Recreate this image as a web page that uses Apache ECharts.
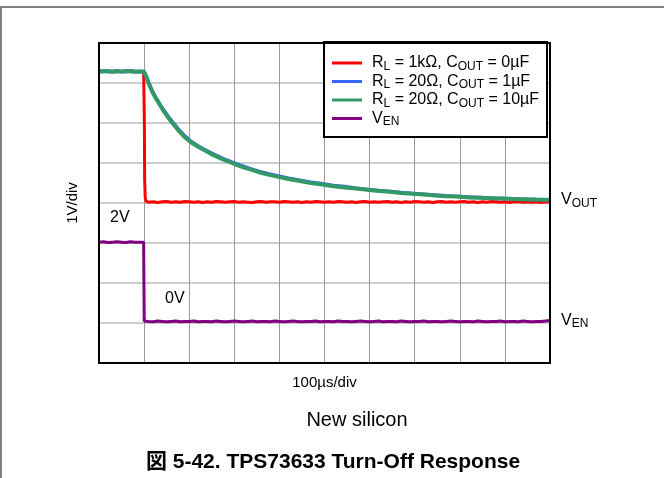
<!DOCTYPE html>
<html>
<head>
<meta charset="utf-8">
<script src="https://cdn.jsdelivr.net/npm/echarts@6/dist/echarts.min.js"></script>
<style>
html,body{margin:0;padding:0;background:#fff;}
#chart{width:664px;height:478px;}
</style>
</head>
<body>
<div id="chart"></div>
<script>
// ---- data (µs, V) ----
const preTime = [0,10,20,30,40,50,60,70,80,90];
const tailTime = [110,120,130,140,150,160,170,180,190,200,210,220,230,240,250,260,270,280,290,300,
  310,320,330,340,350,360,370,380,390,400,410,420,430,440,450,460,470,480,490,500,
  510,520,530,540,550,560,570,580,590,600,610,620,630,640,650,660,670,680,690,700,
  710,720,730,740,750,760,770,780,790,800,810,820,830,840,850,860,870,880,890,900,
  910,920,930,940,950,960,970,980,990,1000];

// R_L = 1kΩ, C_OUT = 0µF
const redPre = [3.29,3.30,3.28,3.29,3.30,3.29,3.28,3.30,3.29,3.29];
const redStepTime = [99,100,100.6,101.2,102.5,104.5,107];
const redStep = [3.29,3.28,2.0,0.6,0.12,0.04,0.02];
const redTail = [0.02,0.03,0.01,0.03,0.04,0.02,0.03,0.02,0.04,0.03,
  0.02,0.03,0.01,0.03,0.02,0.04,0.03,0.02,0.03,0.04,
  0.02,0.03,0.02,0.01,0.03,0.04,0.02,0.03,0.03,0.02,
  0.04,0.03,0.02,0.03,0.01,0.03,0.02,0.04,0.03,0.02,
  0.03,0.02,0.04,0.03,0.02,0.03,0.01,0.03,0.04,0.02,
  0.03,0.02,0.03,0.04,0.02,0.03,0.01,0.03,0.02,0.04,
  0.03,0.02,0.03,0.01,0.03,0.04,0.02,0.03,0.02,0.03,
  0.04,0.02,0.03,0.01,0.03,0.02,0.04,0.03,0.02,0.03,
  0.01,0.03,0.04,0.02,0.03,0.02,0.03,0.01,0.03,0.02];

// decay curves (R_L = 20Ω)
const decayTime = [100,105,110,115,120,128,136,145,155,165,175,188,202,218,235,255,275,295,315,335,
  355,375,395,420,445,470,495,520,545,570,595,620,645,670,695,720,745,770,795,820,
  845,870,895,920,945,970,1000];
const bluePre = [3.29,3.30,3.29,3.29,3.30,3.28,3.29,3.30,3.29,3.29];
const blueDecay = [3.29,3.16,3.01,2.88,2.76,2.60,2.45,2.30,2.14,2.00,1.86,1.70,1.56,1.44,1.33,1.22,1.11,1.02,0.94,0.86,
  0.79,0.73,0.68,0.62,0.57,0.52,0.48,0.44,0.41,0.37,0.34,0.31,0.29,0.26,0.24,0.22,0.20,0.18,0.165,0.15,
  0.135,0.12,0.11,0.10,0.095,0.085,0.08];
const greenPre = [3.29,3.29,3.30,3.28,3.29,3.29,3.30,3.29,3.28,3.29];
const greenDecay = [3.28,3.15,3.00,2.86,2.74,2.58,2.43,2.27,2.11,1.97,1.83,1.67,1.53,1.42,1.31,1.19,1.09,1.00,0.91,0.84,
  0.77,0.71,0.66,0.60,0.55,0.50,0.46,0.42,0.39,0.36,0.33,0.30,0.28,0.25,0.23,0.21,0.19,0.17,0.16,0.14,
  0.13,0.12,0.11,0.10,0.09,0.085,0.08];

// V_EN
const enPre = [2.02,2.03,2.01,2.02,2.03,2.02,2.01,2.03,2.02,2.02];
const enStepTime = [99,99.6,100.3];
const enStep = [2.02,1.0,0.05];
const enTail = [0.04,0.03,0.05,0.04,0.03,0.04,0.05,0.03,0.04,0.04,
  0.05,0.03,0.04,0.04,0.03,0.05,0.04,0.03,0.04,0.05,
  0.04,0.03,0.04,0.05,0.03,0.04,0.04,0.03,0.05,0.04,
  0.03,0.04,0.05,0.04,0.03,0.04,0.04,0.05,0.03,0.04,
  0.04,0.03,0.05,0.04,0.04,0.03,0.04,0.05,0.04,0.03,
  0.04,0.05,0.03,0.04,0.04,0.03,0.05,0.04,0.03,0.04,
  0.04,0.05,0.03,0.04,0.04,0.03,0.04,0.05,0.04,0.03,
  0.04,0.04,0.03,0.05,0.04,0.03,0.04,0.04,0.05,0.03,
  0.04,0.04,0.03,0.05,0.04,0.03,0.04,0.04,0.05,0.06];

const seriesNames = ['RL = 1kΩ, COUT = 0µF','RL = 20Ω, COUT = 1µF','RL = 20Ω, COUT = 10µF','VEN'];
const legendRich = ['{m|R}{s|L}{m| = 1kΩ, C}{s|OUT}{m| = 0µF}','{m|R}{s|L}{m| = 20Ω, C}{s|OUT}{m| = 1µF}','{m|R}{s|L}{m| = 20Ω, C}{s|OUT}{m| = 10µF}','{m|V}{s|EN}'];

// ---- display mapping (scope screen: 1 V/div, channel ground positions in divisions) ----
const VOUT_ZERO_DIV = 4, VEN_ZERO_DIV = 1;
function pairs(ts, vs, off){ return ts.map((t,i)=>[t, vs[i] + off]); }
const redData = pairs(preTime, redPre, VOUT_ZERO_DIV).concat(pairs(redStepTime, redStep, VOUT_ZERO_DIV), pairs(tailTime, redTail, VOUT_ZERO_DIV));
const blueData = pairs(preTime, bluePre, VOUT_ZERO_DIV).concat(pairs(decayTime, blueDecay, VOUT_ZERO_DIV));
const greenData = pairs(preTime, greenPre, VOUT_ZERO_DIV).concat(pairs(decayTime, greenDecay, VOUT_ZERO_DIV));
const enData = pairs(preTime, enPre, VEN_ZERO_DIV).concat(pairs(enStepTime, enStep, VEN_ZERO_DIV), pairs(tailTime, enTail, VEN_ZERO_DIV));

const FONT = '"Liberation Sans", Arial, sans-serif';
const richStyles = {
  m: {fontSize: 16, fontFamily: FONT, color: '#000', lineHeight: 19},
  s: {fontSize: 12, fontFamily: FONT, color: '#000', lineHeight: 11, verticalAlign: 'bottom'}
};

const chart = echarts.init(document.getElementById('chart'), null, {renderer: 'canvas'});
const lineSeries = (name, data, color, width, extra) => Object.assign({
  name, type: 'line', data, showSymbol: false, symbol: 'none',
  lineStyle: {color, width}, itemStyle: {color}, smooth: false, animation: false
}, extra || {});

chart.setOption({
  animation: false,
  backgroundColor: '#fff',
  textStyle: {fontFamily: FONT},
  grid: {left: 99, top: 43, width: 451, height: 320, show: false},
  xAxis: {
    type: 'value', min: 0, max: 1000, interval: 100,
    axisLine: {show: false}, axisTick: {show: false}, axisLabel: {show: false},
    splitLine: {show: true, lineStyle: {color: '#999', width: 1}},
    name: '100µs/div', nameLocation: 'middle', nameGap: 12,
    nameTextStyle: {fontSize: 15, color: '#000', fontFamily: FONT}
  },
  yAxis: {
    type: 'value', min: 0, max: 8, interval: 1,
    axisLine: {show: false}, axisTick: {show: false}, axisLabel: {show: false},
    splitLine: {show: true, lineStyle: {color: '#bbb', width: 1.5}},
    name: '1V/div', nameLocation: 'middle', nameGap: 19, nameRotate: 90,
    nameTextStyle: {fontSize: 15, color: '#000', fontFamily: FONT}
  },
  legend: {
    data: seriesNames, orient: 'vertical', left: 324, top: 42,
    backgroundColor: '#fff', borderColor: '#000', borderWidth: 2,
    padding: [13, 8, 9, 8], itemGap: 1, itemWidth: 30, itemHeight: 3, icon: 'rect',
    formatter: name => legendRich[seriesNames.indexOf(name)],
    textStyle: {rich: richStyles, padding: [0, 0, 0, 5]}
  },
  series: [
    lineSeries(seriesNames[0], redData, '#ff0000', 3),
    lineSeries(seriesNames[1], blueData, '#3366ff', 3.5),
    lineSeries(seriesNames[2], greenData, '#339966', 4, {
      endLabel: {show: true, distance: 11, formatter: '{m|V}{s|OUT}', rich: richStyles}
    }),
    lineSeries(seriesNames[3], enData, '#800080', 3, {
      endLabel: {show: true, distance: 11, formatter: '{m|V}{s|EN}', rich: richStyles}
    })
  ],
  graphic: [
    {type: 'rect', shape: {x: 99, y: 43, width: 451, height: 320}, style: {fill: 'none', stroke: '#000', lineWidth: 2}, silent: true, z: 100},
    {type: 'line', shape: {x1: 0, y1: 7, x2: 664, y2: 7}, style: {stroke: '#808080', lineWidth: 2}, silent: true},
    {type: 'line', shape: {x1: 1, y1: 7, x2: 1, y2: 478}, style: {stroke: '#808080', lineWidth: 2}, silent: true},
    {type: 'text', left: 110, top: 210, style: {text: '2V', fontSize: 16, fontFamily: FONT, fill: '#000'}},
    {type: 'text', left: 165, top: 291, style: {text: '0V', fontSize: 16, fontFamily: FONT, fill: '#000'}},
    {type: 'text', x: 357, y: 420, style: {text: 'New silicon', fontSize: 20, fontFamily: FONT, fill: '#000', textAlign: 'center', textVerticalAlign: 'middle'}},
    {type: 'text', x: 333, y: 462, style: {text: '図 5-42. TPS73633 Turn-Off Response', fontSize: 21, fontWeight: 'bold', fontFamily: FONT + ', "Noto Sans CJK JP"', fill: '#000', textAlign: 'center', textVerticalAlign: 'middle'}}
  ]
});
</script>
</body>
</html>
